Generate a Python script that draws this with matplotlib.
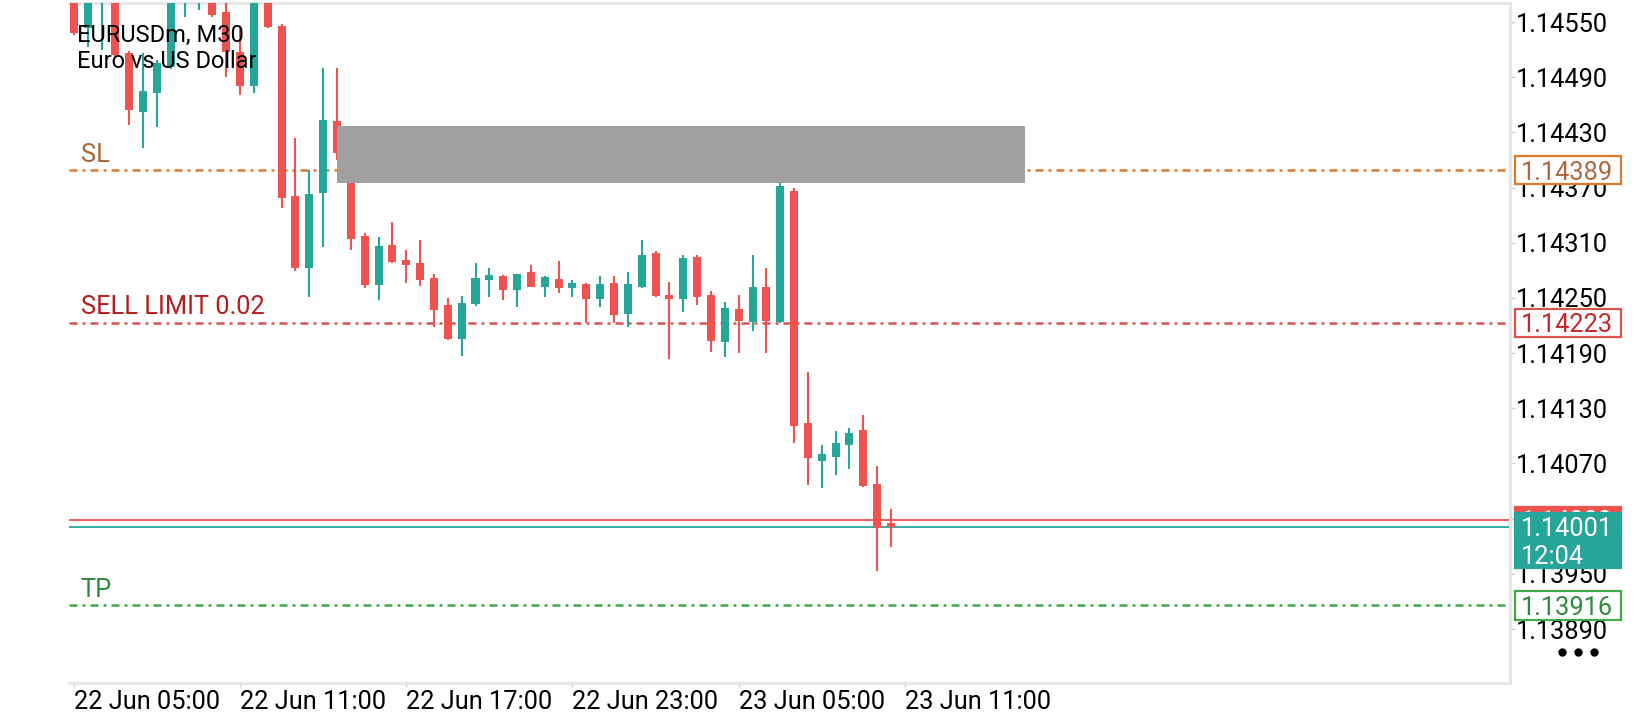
import matplotlib
matplotlib.use("Agg")
import matplotlib.pyplot as plt
import matplotlib.transforms as mtransforms
from matplotlib.patches import Rectangle
from matplotlib.lines import Line2D
import pandas as pd

plt.rcParams['font.family'] = ['Roboto', 'DejaVu Sans']

symbol = "EURUSDm, M30"
description = "Euro vs US Dollar"
first_bar = "2025-06-22 04:30"

# M30 candles
opens = [1.14585, 1.14590, 1.14543, 1.14580, 1.14605, 1.14516, 1.14452, 1.14473, 1.14501, 1.14580,
         1.14585, 1.14595, 1.14561, 1.14517, 1.14480, 1.14580, 1.14546, 1.14361, 1.14283, 1.14364,
         1.14442, 1.14405, 1.14317, 1.14264, 1.14308, 1.14291, 1.14288, 1.14272, 1.14242, 1.14205,
         1.14243, 1.14269, 1.14274, 1.14259, 1.14278, 1.14262, 1.14271, 1.14261, 1.14265, 1.14249,
         1.14266, 1.14233, 1.14262, 1.14299, 1.14253, 1.14249, 1.14295, 1.14253, 1.14202, 1.14238,
         1.14224, 1.14262, 1.14224, 1.14366, 1.14114, 1.14073, 1.14077, 1.14090, 1.14106, 1.14048,
         1.14005]
highs = [1.14620, 1.14600, 1.14600, 1.14615, 1.14615, 1.14518, 1.14516, 1.14509, 1.14600, 1.14610,
         1.14605, 1.14605, 1.14580, 1.14545, 1.14590, 1.14590, 1.14548, 1.14424, 1.14389, 1.14500,
         1.14500, 1.14410, 1.14321, 1.14316, 1.14333, 1.14302, 1.14313, 1.14276, 1.14250, 1.14252,
         1.14288, 1.14283, 1.14275, 1.14276, 1.14286, 1.14274, 1.14290, 1.14269, 1.14266, 1.14274,
         1.14274, 1.14278, 1.14313, 1.14301, 1.14267, 1.14297, 1.14297, 1.14258, 1.14246, 1.14253,
         1.14297, 1.14283, 1.14375, 1.14370, 1.14169, 1.14090, 1.14105, 1.14109, 1.14123, 1.14067,
         1.14021]
lows = [1.14558, 1.14536, 1.14523, 1.14520, 1.14512, 1.14438, 1.14413, 1.14436, 1.14499, 1.14555,
        1.14563, 1.14556, 1.14490, 1.14471, 1.14473, 1.14543, 1.14348, 1.14279, 1.14251, 1.14305,
        1.14400, 1.14302, 1.14261, 1.14248, 1.14288, 1.14266, 1.14263, 1.14218, 1.14204, 1.14187,
        1.14241, 1.14251, 1.14248, 1.14240, 1.14262, 1.14251, 1.14255, 1.14251, 1.14223, 1.14240,
        1.14223, 1.14218, 1.14261, 1.14251, 1.14184, 1.14235, 1.14242, 1.14191, 1.14186, 1.14190,
        1.14214, 1.14190, 1.14223, 1.14092, 1.14047, 1.14043, 1.14057, 1.14064, 1.14044, 1.13953,
        1.13979]
closes = [1.14605, 1.14538, 1.14585, 1.14600, 1.14514, 1.14454, 1.14475, 1.14505, 1.14590, 1.14598,
          1.14595, 1.14558, 1.14517, 1.14480, 1.14580, 1.14545, 1.14359, 1.14283, 1.14363, 1.14443,
          1.14408, 1.14314, 1.14264, 1.14306, 1.14289, 1.14286, 1.14269, 1.14237, 1.14205, 1.14245,
          1.14272, 1.14275, 1.14259, 1.14276, 1.14262, 1.14273, 1.14261, 1.14266, 1.14249, 1.14265,
          1.14231, 1.14265, 1.14297, 1.14252, 1.14249, 1.14293, 1.14251, 1.14203, 1.14239, 1.14225,
          1.14262, 1.14225, 1.14372, 1.14111, 1.14076, 1.14080, 1.14092, 1.14103, 1.14045, 1.14000,
          1.14001]

price_ticks = [1.14550, 1.14490, 1.14430, 1.14370, 1.14310, 1.14250,
               1.14190, 1.14130, 1.14070, 1.14010, 1.13950, 1.13890]
time_ticks = ["2025-06-22 05:00", "2025-06-22 11:00", "2025-06-22 17:00",
              "2025-06-22 23:00", "2025-06-23 05:00", "2025-06-23 11:00"]

sl_price = 1.14389
sell_limit_price = 1.14223
sell_limit_label = "SELL LIMIT 0.02"
tp_price = 1.13916
bid_price = 1.14001
ask_price = 1.14009
countdown = "12:04"

zone_top = 1.14437
zone_bottom = 1.14375
zone_first_bar = 20
zone_last_bar = 69.7

BULL = "#26a69a"
BEAR = "#ef5350"
FRAME = "#e6e6e6"
FS = 18.3

times = pd.date_range(first_bar, periods=len(opens), freq="30min")
bar_step = pd.Timedelta("30min")

fig = plt.figure(figsize=(16.4, 7.2), dpi=100)
ax = fig.add_axes([69 / 1640, 1 - 683 / 720, 1441 / 1640, 680 / 720])

# candles
for i in range(len(opens)):
    o, h, l, c = opens[i], highs[i], lows[i], closes[i]
    col = BULL if c >= o else BEAR
    ax.vlines(i, l, h, color=col, linewidth=1.5, zorder=3)
    body = max(abs(c - o), 0.000018)
    ax.bar(i, body, bottom=min(o, c), width=0.58, color=col, linewidth=0, zorder=3)

# order levels
dashdot = (0, (3.2, 2.0, 1.2, 2.0))
ax.axhline(sl_price, color="#e0782a", linewidth=1.8, linestyle=dashdot, zorder=2)
ax.axhline(sell_limit_price, color="#d9534f", linewidth=1.8, linestyle=dashdot, zorder=2)
ax.axhline(tp_price, color="#43a84a", linewidth=1.8, linestyle=dashdot, zorder=2)
ax.axhline(ask_price, color=BEAR, linewidth=1.3, zorder=2)
ax.axhline(bid_price, color=BULL, linewidth=1.3, zorder=2)

level_text = [("SL", sl_price, "#a8643a"),
              (sell_limit_label, sell_limit_price, "#b71c1c"),
              ("TP", tp_price, "#2e8b3e")]
left_blend = mtransforms.blended_transform_factory(ax.transAxes, ax.transData)
for txt, price, col in level_text:
    ax.annotate(txt, (0.008, price), xycoords=left_blend, xytext=(0, 6),
                textcoords="offset points", ha="left", va="baseline",
                fontsize=FS, color=col, zorder=6)

# grey zone on top of the candles
ax.add_patch(Rectangle((zone_first_bar, zone_bottom), zone_last_bar - zone_first_bar,
                       zone_top - zone_bottom, facecolor="#a0a0a0", edgecolor="none", zorder=4))

ax.text(0.0055, 0.942, symbol, transform=ax.transAxes, fontsize=17,
        ha="left", va="baseline", color="black", zorder=6)
ax.text(0.0055, 0.904, description, transform=ax.transAxes, fontsize=17,
        ha="left", va="baseline", color="black", zorder=6)

# axes styling
ax.set_xlim(0.65, 104.69)
ax.set_ylim(1.138313, 1.145707)
ax.set_facecolor("white")
ax.spines["left"].set_visible(False)
for side in ["top", "right", "bottom"]:
    ax.spines[side].set_color(FRAME)
    ax.spines[side].set_linewidth(2.2)

ax.yaxis.tick_right()
ax.set_yticks(price_ticks)
ax.set_yticklabels([f"{p:.5f}" for p in price_ticks])
ax.tick_params(axis="y", direction="out", length=3.5, width=1, color="#cfcfcf",
               pad=1, labelsize=FS, labelcolor="black")

tick_pos = [(pd.Timestamp(t) - times[0]) / bar_step for t in time_ticks]
ax.set_xticks(tick_pos)
ax.set_xticklabels([pd.Timestamp(t).strftime("%d %b %H:%M") for t in time_ticks])
for lab in ax.get_xticklabels():
    lab.set_ha("left")
ax.tick_params(axis="x", direction="out", length=3, width=1, color="#cfcfcf",
               pad=2, labelsize=FS, labelcolor="black")

# price tags on the right scale
x0, x1 = 1.0035, 1.0770
px = (1.145707 - 1.138313) / 680.0


def tag(price, up, down, face, edge, lines, txtcol, z):
    ax.add_patch(Rectangle((x0, price - down * px), x1 - x0, (up + down) * px,
                           transform=left_blend, facecolor=face, edgecolor=edge,
                           linewidth=1.6, clip_on=False, zorder=z))
    for k, s in enumerate(lines):
        ax.text(x0 + 0.0040, price - k * 27.5 * px, s, transform=left_blend,
                ha="left", va="center_baseline", fontsize=FS, color=txtcol,
                clip_on=False, zorder=z + 0.5)


tag(sl_price, 14, 14, "white", "#e0782a", [f"{sl_price:.5f}"], "#b0693f", 7)
tag(sell_limit_price, 14, 14.5, "white", "#d9534f", [f"{sell_limit_price:.5f}"], "#c62828", 7)
tag(tp_price, 14, 14.5, "white", "#43a84a", [f"{tp_price:.5f}"], "#2e8b3e", 7)
tag(ask_price, 12.5, 13, BEAR, BEAR, [f"{ask_price:.5f}"], "white", 7)
tag(bid_price, 13.5, 41.5, BULL, BULL, [f"{bid_price:.5f}", countdown], "white", 8)

fig.add_artist(Line2D([1562 / 1640, 1578 / 1640, 1594 / 1640], [1 - 652 / 720] * 3,
                      linestyle="none", marker="o", markersize=5, color="black",
                      transform=fig.transFigure))

fig.savefig("out.png", dpi=100, facecolor="white")
